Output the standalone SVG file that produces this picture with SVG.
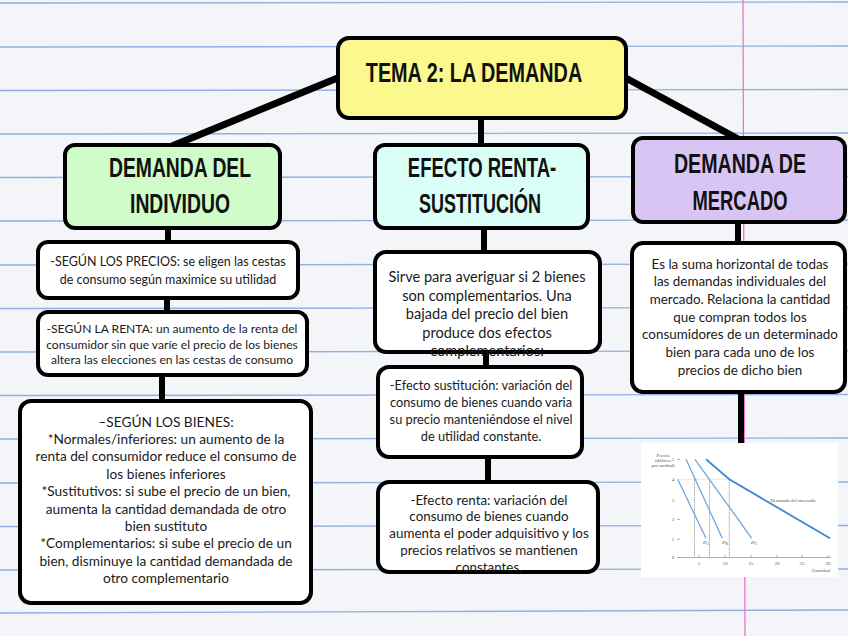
<svg xmlns="http://www.w3.org/2000/svg" width="848" height="636" viewBox="0 0 848 636">
<style>
.box{stroke:#000;stroke-width:4}
.ttl{font-family:"Liberation Sans",Arial,sans-serif;font-weight:bold;fill:#111;text-anchor:middle}
.txt{font-family:Lato,"Liberation Sans",sans-serif;fill:#1a1a1a;text-anchor:middle}
.con{stroke:#000;fill:none;stroke-linecap:butt}
.rule{stroke:#8fb1e3;stroke-width:1.4}
.ch{font-family:"Liberation Serif",serif;fill:#555;font-size:5px}
</style>
<rect width="848" height="636" fill="#f3f5f8"/>
<g id="paper">
<line class="rule" x1="0" y1="3" x2="848" y2="2"/>
<line class="rule" x1="0" y1="47" x2="848" y2="46"/>
<line class="rule" x1="0" y1="90.5" x2="848" y2="89.5"/>
<line class="rule" x1="0" y1="134" x2="848" y2="133"/>
<line class="rule" x1="0" y1="177.5" x2="848" y2="176.5"/>
<line class="rule" x1="0" y1="221" x2="848" y2="220"/>
<line class="rule" x1="0" y1="265" x2="848" y2="264"/>
<line class="rule" x1="0" y1="308.5" x2="848" y2="307.5"/>
<line class="rule" x1="0" y1="352" x2="848" y2="351"/>
<line class="rule" x1="0" y1="395.5" x2="848" y2="394.5"/>
<line class="rule" x1="0" y1="439" x2="848" y2="438"/>
<line class="rule" x1="0" y1="483" x2="848" y2="482"/>
<line class="rule" x1="0" y1="526.5" x2="848" y2="525.5"/>
<line class="rule" x1="0" y1="570" x2="848" y2="569"/>
<line class="rule" x1="0" y1="613" x2="848" y2="610"/>
<line x1="743" y1="0" x2="745" y2="636" stroke="#f06ac8" stroke-width="1.2"/>
</g>
<g id="connectors">
<line class="con" x1="340" y1="77" x2="172" y2="146" stroke-width="7"/>
<line class="con" x1="624" y1="77" x2="740" y2="140" stroke-width="7"/>
<line class="con" x1="481" y1="117" x2="481" y2="147" stroke-width="6"/>
<line class="con" x1="168" y1="226" x2="168" y2="244" stroke-width="6"/>
<line class="con" x1="167" y1="296" x2="167" y2="314" stroke-width="6"/>
<line class="con" x1="162" y1="373" x2="162" y2="403" stroke-width="6"/>
<line class="con" x1="484" y1="226" x2="484" y2="254" stroke-width="6"/>
<line class="con" x1="486" y1="350" x2="486" y2="369" stroke-width="6"/>
<line class="con" x1="488" y1="455" x2="488" y2="484" stroke-width="6"/>
<line class="con" x1="738" y1="220" x2="738" y2="245" stroke-width="6"/>
<line class="con" x1="741" y1="390" x2="741" y2="445" stroke-width="6"/>
</g>
<g id="title">
<rect class="box" x="338" y="38" width="288" height="80" rx="11" fill="#fbf98d"/>
<text class="ttl" transform="translate(474 82) scale(0.734 1)" font-size="27">TEMA 2: LA DEMANDA</text>
</g>
<g id="demanda-individuo">
<rect class="box" x="65" y="145" width="215" height="83" rx="10" fill="#cffcc8"/>
<text class="ttl" transform="translate(180 177) scale(0.691 1)" font-size="28">DEMANDA DEL</text>
<text class="ttl" transform="translate(180 213) scale(0.717 1)" font-size="27">INDIVIDUO</text>
</g>
<g id="efecto-renta">
<rect class="box" x="375" y="145" width="213" height="83" rx="10" fill="#dafff6"/>
<text class="ttl" transform="translate(482 177) scale(0.661 1)" font-size="28">EFECTO RENTA-</text>
<text class="ttl" transform="translate(480 213) scale(0.667 1)" font-size="27">SUSTITUCIÓN</text>
</g>
<g id="demanda-mercado">
<rect class="box" x="633" y="138" width="212" height="84" rx="10" fill="#d9c5f4"/>
<text class="ttl" transform="translate(740 173) scale(0.701 1)" font-size="28">DEMANDA DE</text>
<text class="ttl" transform="translate(740 210) scale(0.681 1)" font-size="27">MERCADO</text>
</g>
<g id="precios">
<rect class="box" x="38" y="242" width="260" height="56" rx="10" fill="#fff"/>
<text class="txt" font-size="12.5" x="168"><tspan x="168" y="266">-SEGÚN LOS PRECIOS: se eligen las cestas</tspan><tspan x="168" y="283.5">de consumo según maximice su utilidad</tspan></text>
</g>
<g id="renta">
<rect class="box" x="38" y="312" width="269" height="63" rx="10" fill="#fff"/>
<text class="txt" font-size="12.1" x="172"><tspan x="172" y="333">-SEGÚN LA RENTA: un aumento de la renta del</tspan><tspan x="172" y="348.5">consumidor sin que varíe el precio de los bienes</tspan><tspan x="172" y="364">altera las elecciones en las cestas de consumo</tspan></text>
</g>
<g id="bienes">
<rect class="box" x="20" y="401" width="291" height="202" rx="11" fill="#fff"/>
<text class="txt" font-size="13.7" x="166"><tspan x="166" y="426.5">–SEGÚN LOS BIENES:</tspan><tspan x="166" y="443.9">*Normales/inferiores: un aumento de la</tspan><tspan x="166" y="461.3">renta del consumidor reduce el consumo de</tspan><tspan x="166" y="478.7">los bienes inferiores</tspan><tspan x="166" y="496.1">*Sustitutivos: si sube el precio de un bien,</tspan><tspan x="166" y="513.5">aumenta la cantidad demandada de otro</tspan><tspan x="166" y="530.9">bien sustituto</tspan><tspan x="166" y="548.3">*Complementarios: si sube el precio de un</tspan><tspan x="166" y="565.7">bien, disminuye la cantidad demandada de</tspan><tspan x="166" y="583.1">otro complementario</tspan></text>
</g>
<g id="sirve">
<rect class="box" x="375" y="252" width="225" height="100" rx="11" fill="#fff"/>
<text class="txt" font-size="14.6" x="487"><tspan x="487" y="282">Sirve para averiguar si 2 bienes</tspan><tspan x="487" y="300.5">son complementarios. Una</tspan><tspan x="487" y="319">bajada del precio del bien</tspan><tspan x="487" y="337.5">produce dos efectos</tspan><tspan x="487" y="356">complementarios:</tspan></text>
</g>
<g id="efecto-sustitucion">
<rect class="box" x="378" y="367" width="204" height="90" rx="11" fill="#fff"/>
<text class="txt" font-size="12.8" x="481"><tspan x="481" y="389.5">-Efecto sustitución: variación del</tspan><tspan x="481" y="406.5">consumo de bienes cuando varia</tspan><tspan x="481" y="423.5">su precio manteniéndose el nivel</tspan><tspan x="481" y="440.5">de utilidad constante.</tspan></text>
</g>
<g id="efecto-renta-det">
<rect class="box" x="378" y="482" width="220" height="90" rx="11" fill="#fff"/>
<text class="txt" font-size="13.4" x="489"><tspan x="489" y="504.5">-Efecto renta: variación del</tspan><tspan x="489" y="521.3">consumo de bienes cuando</tspan><tspan x="489" y="538.1">aumenta el poder adquisitivo y los</tspan><tspan x="489" y="554.9">precios relativos se mantienen</tspan><tspan x="489" y="571.7">constantes.</tspan></text>
</g>
<g id="suma">
<rect class="box" x="632" y="243" width="213" height="149" rx="11" fill="#fff"/>
<text class="txt" font-size="13.4" x="740"><tspan x="740" y="268.5">Es la suma horizontal de todas</tspan><tspan x="740" y="286.2">las demandas individuales del</tspan><tspan x="740" y="303.9">mercado. Relaciona la cantidad</tspan><tspan x="740" y="321.6">que compran todos los</tspan><tspan x="740" y="339.3">consumidores de un determinado</tspan><tspan x="740" y="357">bien para cada uno de los</tspan><tspan x="740" y="374.7">precios de dicho bien</tspan></text>
</g>
<g id="grafico">
<rect x="641" y="443" width="197" height="134" fill="#fff"/>
<line x1="677" y1="557.5" x2="831" y2="557.5" stroke="#999" stroke-width="0.8"/>
<g stroke="#888" stroke-width="0.8" stroke-dasharray="1.5 1">
<line x1="694.5" y1="479.3" x2="694.5" y2="557.5"/>
<line x1="709.5" y1="479.3" x2="709.5" y2="557.5"/>
<line x1="729.3" y1="479.3" x2="729.3" y2="557.5"/>
<line x1="678" y1="479.3" x2="729.3" y2="479.3" stroke="#ccc"/>
</g>
<g stroke="#777" stroke-width="0.6">
<line x1="677" y1="459.3" x2="680" y2="459.3"/>
<line x1="677" y1="519.3" x2="680" y2="519.3"/>
<line x1="677" y1="539.3" x2="680" y2="539.3"/>
<line x1="699" y1="557.5" x2="699" y2="555"/>
<line x1="725" y1="557.5" x2="725" y2="555"/>
<line x1="751" y1="557.5" x2="751" y2="555"/>
<line x1="777" y1="557.5" x2="777" y2="555"/>
<line x1="802" y1="557.5" x2="802" y2="555"/>
<line x1="828" y1="557.5" x2="828" y2="555"/>
</g>
<g stroke="#6fa6e0" stroke-width="1.3">
<line x1="677.7" y1="479.3" x2="706" y2="538.3"/>
<line x1="686" y1="459.3" x2="722.3" y2="538.3"/>
<line x1="695" y1="459.3" x2="751.7" y2="538.3"/>
</g>
<polyline points="706,459.3 729.3,479.3 830,538.3" fill="none" stroke="#3f88d2" stroke-width="1.8"/>
<g class="ch" text-anchor="middle">
<text x="663" y="457">Precio</text>
<text x="663" y="462">(dólares</text>
<text x="663" y="467">por unidad)</text>
<text x="673" y="461">5</text>
<text x="673" y="481">4</text>
<text x="673" y="502">3</text>
<text x="673" y="521">2</text>
<text x="673" y="541">1</text>
<text x="673" y="559">0</text>
<text x="699" y="565">5</text>
<text x="725" y="565">10</text>
<text x="751" y="565">15</text>
<text x="777" y="565">20</text>
<text x="802" y="565">25</text>
<text x="828" y="565">30</text>
<text x="821" y="572" font-style="italic">Cantidad</text>
<text x="793" y="502">Demanda del mercado</text>
<text x="706" y="544" font-style="italic">D<tspan font-size="3.5" dy="1">A</tspan></text>
<text x="725" y="544" font-style="italic">D<tspan font-size="3.5" dy="1">B</tspan></text>
<text x="754" y="544" font-style="italic">D<tspan font-size="3.5" dy="1">C</tspan></text>
</g>
</g>
</svg>
